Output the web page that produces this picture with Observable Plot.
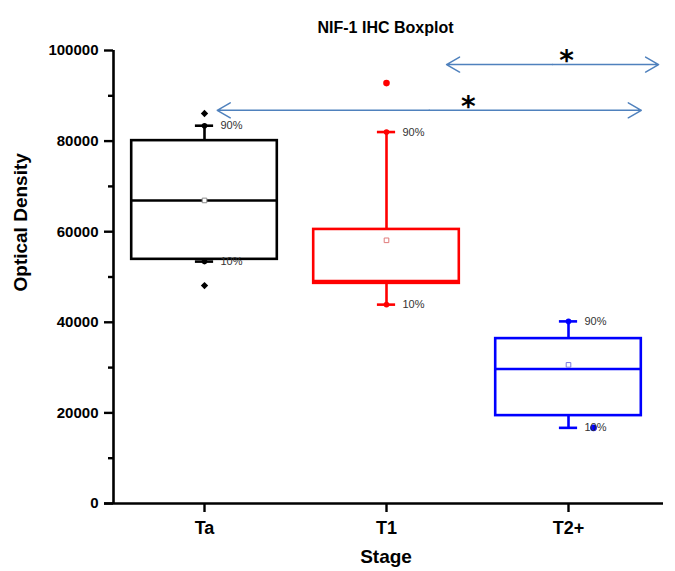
<!DOCTYPE html>
<html>
<head>
<meta charset="utf-8">
<script src="https://cdn.jsdelivr.net/npm/d3@7"></script>
<script src="https://cdn.jsdelivr.net/npm/@observablehq/plot@0.6"></script>
<style>
  html, body { margin: 0; padding: 0; background: #fff; }
  #chart { width: 675px; height: 571px; }
</style>
</head>
<body>
<div id="chart"></div>
<script>
// ---- data ----
const title = "NIF-1 IHC Boxplot";
const xLabel = "Stage";
const yLabel = "Optical Density";
const stages = ["Ta", "T1", "T2+"];
const p10    = [53400, 43900, 16700];
const q1     = [53900, 48600, 19400];
const median = [66900, 49100, 29700];
const q3     = [80100, 60500, 36400];
const p90    = [83400, 82000, 40200];
const mean   = [66900, 58100, 30600];
// extreme points (outside the 10–90% whiskers)
const outlierStage = ["Ta", "Ta", "T1"];
const outlierValue = [86100, 48100, 92800];
const t2MinValue = 16700;           // blue dot beside the T2+ 10% cap
// dots drawn on whisker caps
const capDotStage = ["Ta", "Ta", "T1", "T1", "T2+"];
const capDotValue = [83400, 53400, 82000, 43900, 40200];
const yTicks = [0, 20000, 40000, 60000, 80000, 100000];
const yMinorTicks = [10000, 30000, 50000, 70000, 90000];
// significance brackets (x in stage-index units)
const sigFrom  = [0.07, 1.33];
const sigTo    = [2.40, 2.495];
const sigStarX = [1.45, 1.99];
const sigY     = [86800, 96900];
const sigText  = ["*", "*"];

// ---- styles ----
const boxColors  = ["#000000", "#ff0000", "#0000ff"];
const meanColors = ["#8a8a8a", "#e07a7a", "#7a7ae0"];
const arrowColor = "#4f81bd";
const halfW = 0.4, capW = 0.05, lw = 2.6;

const rows = stages.map((s, i) => ({
  i, stage: s, p10: p10[i], q1: q1[i], median: median[i], q3: q3[i], p90: p90[i], mean: mean[i],
  color: boxColors[i], meanColor: meanColors[i]
}));
const idx = s => stages.indexOf(s);
const outliers = outlierStage.map((s, k) => ({i: idx(s), v: outlierValue[k], color: boxColors[idx(s)]}));
const capDots = capDotStage.map((s, k) => ({i: idx(s), v: capDotValue[k], color: boxColors[idx(s)]}));
const arrows = [];
sigFrom.forEach((a, k) => {
  const mid = (a + sigTo[k]) / 2;
  arrows.push({x1: mid, x2: a, y: sigY[k]});
  arrows.push({x1: mid, x2: sigTo[k], y: sigY[k]});
});
const stars = sigText.map((t, k) => ({x: sigStarX[k], y: sigY[k], t}));
const xDomain = [-0.5, stages.length - 0.5];

const chart = Plot.plot({
  width: 675,
  height: 571,
  marginLeft: 104,
  marginRight: 12,
  marginTop: 50,
  marginBottom: 68,
  x: {type: "linear", domain: xDomain, range: [113, 659]},
  y: {domain: [0, d3.max(yTicks)]},
  color: {type: "identity"},
  style: {fontFamily: "'Liberation Sans', Arial, sans-serif", color: "#000", background: "#fff"},
  marks: [
    // boxes
    Plot.rect(rows, {x1: d => d.i - halfW, x2: d => d.i + halfW, y1: "q1", y2: "q3",
      fill: "white", stroke: "color", strokeWidth: lw}),
    Plot.ruleY(rows, {y: "median", x1: d => d.i - halfW, x2: d => d.i + halfW, stroke: "color", strokeWidth: lw}),
    // whiskers
    Plot.ruleX(rows, {x: "i", y1: "q3", y2: "p90", stroke: "color", strokeWidth: lw}),
    Plot.ruleX(rows, {x: "i", y1: "q1", y2: "p10", stroke: "color", strokeWidth: lw}),
    Plot.ruleY(rows, {y: "p90", x1: d => d.i - capW, x2: d => d.i + capW, stroke: "color", strokeWidth: lw}),
    Plot.ruleY(rows, {y: "p10", x1: d => d.i - capW, x2: d => d.i + capW, stroke: "color", strokeWidth: lw}),
    Plot.dot(capDots, {x: "i", y: "v", r: 2.8, fill: "color", stroke: "none"}),
    // mean squares
    Plot.dot(rows, {x: "i", y: "mean", symbol: "square", r: 2.6, fill: "white", stroke: "meanColor", strokeWidth: 1}),
    // outliers
    Plot.dot(outliers, {x: "i", y: "v", r: 3.3, symbol: d => d.i === 0 ? "diamond2" : "circle", fill: "color", stroke: "none"}),
    Plot.dot([t2MinValue], {x: () => idx("T2+"), y: d => d, dx: 25, r: 3.4, fill: boxColors[2], stroke: "none"}),
    // percentile labels
    Plot.text(rows, {x: "i", y: "p90", text: () => "90%", dx: 16, textAnchor: "start", fontSize: 11, fill: "#333"}),
    Plot.text(rows, {x: "i", y: "p10", text: () => "10%", dx: 16, textAnchor: "start", fontSize: 11, fill: "#333"}),
    // axes
    Plot.ruleY([0], {stroke: "#000", strokeWidth: 2.6}),
    Plot.ruleX([xDomain[0]], {y1: 0, y2: d3.max(yTicks), stroke: "#000", strokeWidth: 2.6}),
    Plot.axisY({ticks: yTicks, tickFormat: d => String(d), tickSize: 9, tickPadding: 6, dx: 9,
      fontSize: 15, fontWeight: "bold", strokeWidth: 2.4, label: null}),
    Plot.axisY({ticks: yMinorTicks, tickSize: 5, dx: 9, fill: "none", strokeWidth: 2.4, label: null}),
    Plot.axisX({ticks: stages.map((s, i) => i), tickFormat: i => stages[i], tickSize: 9, tickPadding: 9,
      fontSize: 18, fontWeight: "bold", strokeWidth: 2.4, label: null}),
    // significance arrows
    Plot.arrow(arrows, {x1: "x1", x2: "x2", y1: "y", y2: "y", stroke: arrowColor, strokeWidth: 1.5,
      headLength: 15, headAngle: 60}),
    Plot.text(stars, {x: "x", y: "y", text: "t", dy: -3.5, fontSize: 28, fontWeight: "bold",
      fontFamily: "'DejaVu Sans', sans-serif", fill: "#000"}),
    // titles
    Plot.text([title], {frameAnchor: "top", dy: -29, dx: 1.5, fontSize: 16, fontWeight: "bold"}),
    Plot.text([xLabel], {frameAnchor: "bottom", lineAnchor: "top", dy: 46, dx: 2, fontSize: 19, fontWeight: "bold"}),
    Plot.text([yLabel], {frameAnchor: "left", rotate: -90, dx: -83.5, dy: 14.5, fontSize: 19, fontWeight: "bold"})
  ]
});
document.getElementById("chart").appendChild(chart);
</script>
</body>
</html>
